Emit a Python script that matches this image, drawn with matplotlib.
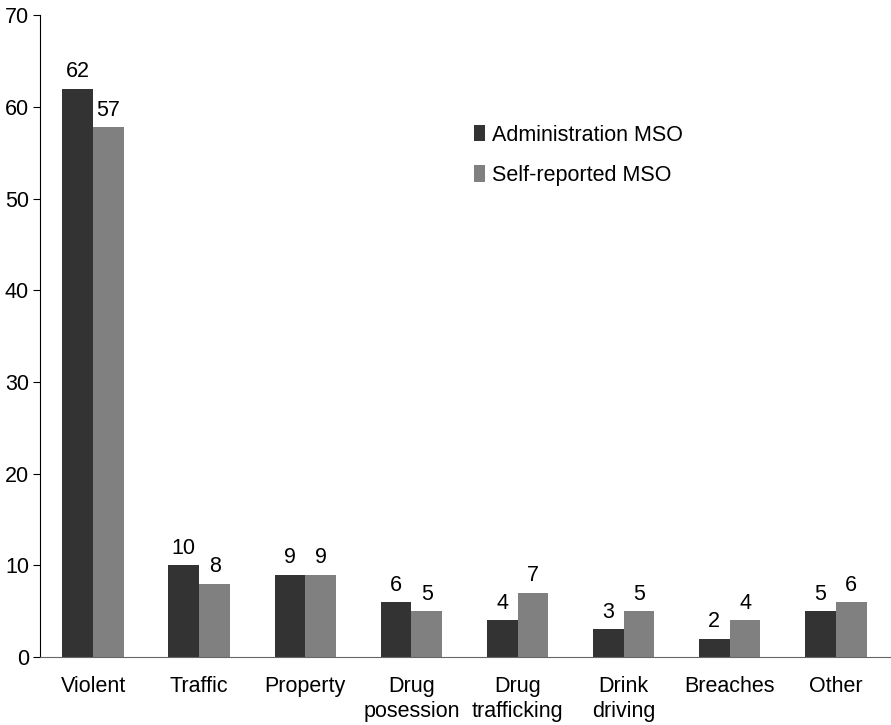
import matplotlib
matplotlib.use("Agg")
import matplotlib.pyplot as plt
import numpy as np

plt.rcParams['font.family'] = ['Liberation Sans', 'DejaVu Sans']

categories = ["Violent", "Traffic", "Property", "Drug\nposession", "Drug\ntrafficking",
              "Drink\ndriving", "Breaches", "Other"]
admin = [62, 10, 9, 6, 4, 3, 2, 5]
self_rep = [57.8, 8, 9, 5, 7, 5, 4, 6]
admin_labels = ["62", "10", "9", "6", "4", "3", "2", "5"]
self_labels = ["57", "8", "9", "5", "7", "5", "4", "6"]

fs = 15.5

fig = plt.figure(figsize=(8.91, 7.25), dpi=100)
ax = fig.add_axes([0.045, 0.0938, 0.955, 0.885])

x = np.arange(len(categories))
w = 0.29
b1 = ax.bar(x - w / 2, admin, w, color='#333333', label='Administration MSO')
b2 = ax.bar(x + w / 2, self_rep, w, color='#808080', label='Self-reported MSO')

for bars, labs in ((b1, admin_labels), (b2, self_labels)):
    for r, t in zip(bars, labs):
        ax.text(r.get_x() + r.get_width() / 2, r.get_height() + 0.7, t,
                ha='center', va='bottom', fontsize=fs)

ax.set_xlim(-0.5, 7.52)
ax.set_ylim(0, 70)
ax.set_yticks(range(0, 71, 10))
ax.set_xticks(x)
ax.set_xticklabels(categories, fontsize=fs, va='top', linespacing=1.25)
ax.tick_params(axis='x', length=0, pad=14)
ax.tick_params(axis='y', labelsize=fs, length=5, direction='out', pad=3)
ax.spines['top'].set_visible(False)
ax.spines['right'].set_visible(False)
ax.spines['bottom'].set_color('#666666')

leg = ax.legend(loc='upper left', bbox_to_anchor=(0.487, 0.86), frameon=False,
                fontsize=fs, handlelength=0.5, handleheight=0.8,
                handletextpad=0.35, labelspacing=0.9)

fig.savefig("out.png", dpi=100)
